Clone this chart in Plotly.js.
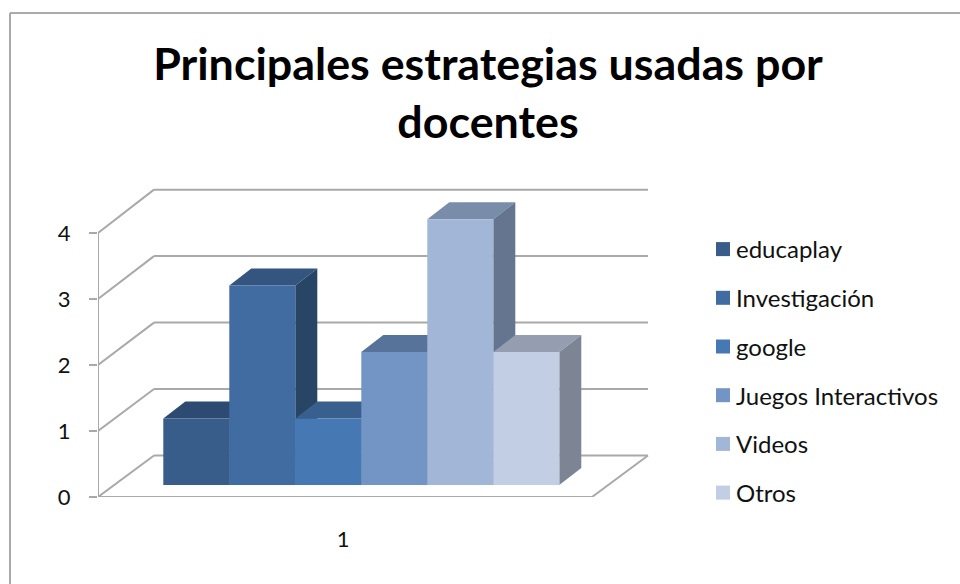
<!DOCTYPE html>
<html><head><meta charset="utf-8">
<script src="https://cdn.plot.ly/plotly-3.0.1.min.js"></script>
<style>html,body{margin:0;padding:0;background:#fff;overflow:hidden}#c{width:960px;height:584px}</style>
</head><body><div id="c"></div>
<script>
const titleText = "Principales estrategias usadas por<br>docentes";
const categories = ["educaplay","Investigación","google","Juegos Interactivos","Videos","Otros"];
const values = [1,3,1,2,4,2];
const frontColors = ["#385d8b","#416ca2","#4678b3","#7295c6","#a2b6d8","#c2cee3"];
const topColors   = ["#2d4b72","#33557f","#385f8e","#587399","#798ca9","#959eb0"];
const sideColors  = ["#27405f","#294565","#2f5078","#4d6486","#66758f","#7d8594"];
const gridValues = [0,1,2,3,4];
const xTickLabels = ["1"];

const W=960,H=584,L=98,R=650,T=188,B=497;
const xUnit=494,yUnit=66;
const x0=0.5, wallScale=1.007;
const floorDX=56/xUnit, floorDY=41.5/yUnit, floorW=1;
const barW=66/xUnit, barStart=0.5+65.3/xUnit, barBase=12/yUnit, barDX=22/xUnit, barDY=17/yUnit;
const gridColor="#a9a9a9";
const traces=[];
function line(xs,ys,w,c){traces.push({type:"scatter",mode:"lines",x:xs,y:ys,line:{color:c||gridColor,width:w||2},showlegend:false,hoverinfo:"skip",cliponaxis:false});}
function poly(xs,ys,c){traces.push({type:"scatter",mode:"lines",x:xs,y:ys,fill:"toself",fillcolor:c,line:{width:0,color:c},showlegend:false,hoverinfo:"skip",cliponaxis:false});}

gridValues.forEach(v=>{
  const yb=floorDY+v*wallScale;
  line([x0+floorDX,x0+floorDX+floorW],[yb,yb]);
  line([x0,x0+floorDX],[v,yb]);
});
line([x0,x0],[0,gridValues[gridValues.length-1]]);
line([x0,x0+floorW,x0+floorW+floorDX],[0,0,floorDY]);

values.forEach((v,i)=>{
  const a=barStart+i*barW,b=a+barW,y0=barBase,y1=barBase+v*wallScale;
  poly([a,b,b+barDX,a+barDX,a],[y1,y1,y1+barDY,y1+barDY,y1],topColors[i]);
  poly([b,b+barDX,b+barDX,b,b],[y0,y0+barDY,y1+barDY,y1,y0],sideColors[i]);
  poly([a,b,b,a,a],[y0,y0,y1,y1,y0],frontColors[i]);
});
categories.forEach((n,i)=>{
  traces.push({type:"scatter",mode:"markers",x:[null],y:[null],name:n,legendgroup:n,
    marker:{symbol:"square",size:14,color:frontColors[i],line:{width:0}}});
});

const px=v=>(v-L)/(R-L), py=v=>(B-v)/(B-T);
const layout={
  width:W,height:H,paper_bgcolor:"#fff",plot_bgcolor:"rgba(0,0,0,0)",
  margin:{l:L,r:W-R,t:T,b:H-B,pad:0},
  title:{text:titleText,x:488/W,xanchor:"center",xref:"container",y:1-80/H,yanchor:"top",
    font:{family:"Lato, sans-serif",size:44.8,color:"#000",weight:700}},
  xaxis:{range:[x0,x0+(R-L)/xUnit],showgrid:false,zeroline:false,showline:false,ticks:"",
    tickmode:"array",tickvals:[0.996],ticktext:xTickLabels,ticklabelstandoff:27,
    tickfont:{family:"Lato, sans-serif",size:22,color:"#111"}},
  yaxis:{range:[0,(B-T)/yUnit],showgrid:false,zeroline:false,showline:false,ticks:"outside",ticklen:8,tickwidth:2,tickcolor:gridColor,
    tickmode:"array",tickvals:gridValues,ticklabelstandoff:14,
    tickfont:{family:"Lato, sans-serif",size:22,color:"#111"}},
  legend:{xref:"container",yref:"container",x:696/W,xanchor:"left",y:1-227/H,yanchor:"top",
    tracegroupgap:14.5,font:{family:"Lato, sans-serif",size:24,color:"#111"},bgcolor:"rgba(0,0,0,0)",itemclick:false,itemdoubleclick:false},
  shapes:[
    {type:"line",xref:"paper",yref:"paper",x0:px(10),x1:px(960),y0:py(13),y1:py(13),line:{color:"#aaa",width:2}},
    {type:"line",xref:"paper",yref:"paper",x0:px(10),x1:px(10),y0:py(13),y1:py(584),line:{color:"#aaa",width:2}}
  ]
};
Plotly.newPlot("c",traces,layout,{displayModeBar:false,staticPlot:true}).then(()=>{
  document.querySelectorAll("#c .legendsymbols").forEach(s=>s.setAttribute("transform","translate(7,0)"));
});
</script></body></html>
